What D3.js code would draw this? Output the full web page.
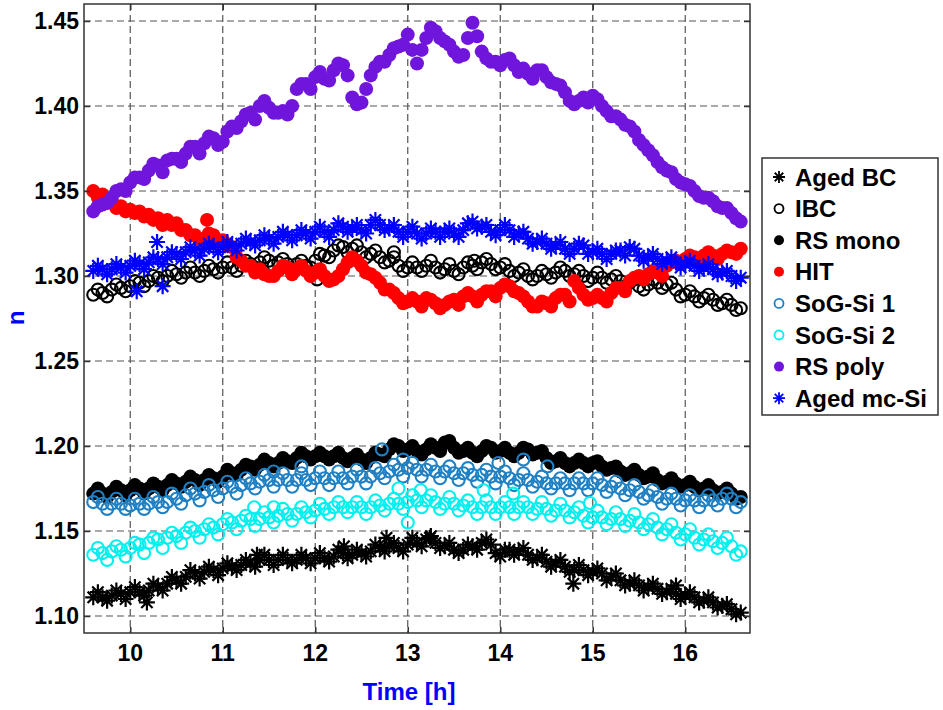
<!DOCTYPE html>
<html>

<head>
  <title>Refractive index vs time</title>
  <script src="https://cdn.jsdelivr.net/npm/d3@7"></script>
  <style>
    body { margin: 0; background: #fff; }
    text { font-family: Arial, "Liberation Sans", sans-serif; font-weight: bold; }
  </style>
</head>

<body>
  <svg width="943" height="710" id="mainsvg"></svg>
  <script>
    // readings on the whole tenths (9.6 ... 16.6 h) and on the half steps between them (9.65 ... 16.55 h)
    const times = d3.range(71).map(i => +(9.6 + i * 0.1).toFixed(2));
    const halfTimes = d3.range(70).map(i => +(9.65 + i * 0.1).toFixed(2));

    const agedBC = [1.111, 1.111, 1.112, 1.113, 1.114, 1.114, 1.115, 1.117, 1.119, 1.121,
      1.123, 1.125, 1.126, 1.127, 1.128, 1.129, 1.130, 1.131, 1.133, 1.133,
      1.133, 1.133, 1.133, 1.134, 1.134, 1.134, 1.135, 1.137, 1.136, 1.137,
      1.138, 1.140, 1.141, 1.140, 1.142, 1.143, 1.145, 1.143, 1.141, 1.139,
      1.139, 1.141, 1.143, 1.142, 1.135, 1.139, 1.138, 1.136, 1.134, 1.132,
      1.131, 1.129, 1.127, 1.127, 1.126, 1.125, 1.123, 1.121, 1.119, 1.118,
      1.117, 1.116, 1.114, 1.113, 1.112, 1.111, 1.109, 1.108, 1.106, 1.104, 1.102];
    const agedBCHalf = [1.114, 1.109, 1.115, 1.110, 1.117, 1.112, 1.119, 1.115, 1.123, 1.119,
      1.127, 1.122, 1.129, 1.124, 1.131, 1.127, 1.133, 1.129, 1.136, 1.130,
      1.136, 1.131, 1.136, 1.131, 1.137, 1.132, 1.139, 1.134, 1.139, 1.135,
      1.142, 1.138, 1.143, 1.138, 1.146, 1.141, 1.147, 1.140, 1.143, 1.137,
      1.142, 1.139, 1.145, 1.137, 1.139, 1.136, 1.140, 1.133, 1.136, 1.129,
      1.133, 1.126, 1.130, 1.124, 1.128, 1.121, 1.125, 1.118, 1.121, 1.115,
      1.119, 1.113, 1.116, 1.110, 1.114, 1.108, 1.111, 1.105, 1.107, 1.101];

    const ibc = [1.289, 1.290, 1.292, 1.293, 1.294, 1.296, 1.297, 1.299, 1.300, 1.301,
      1.302, 1.302, 1.303, 1.304, 1.305, 1.305, 1.306, 1.307, 1.308, 1.309,
      1.308, 1.307, 1.307, 1.306, 1.309, 1.312, 1.315, 1.317, 1.316, 1.314,
      1.313, 1.311, 1.309, 1.306, 1.305, 1.305, 1.306, 1.305, 1.304, 1.303,
      1.305, 1.306, 1.308, 1.307, 1.305, 1.303, 1.302, 1.300, 1.300, 1.301,
      1.302, 1.303, 1.301, 1.300, 1.299, 1.299, 1.298, 1.297, 1.296, 1.294,
      1.295, 1.296, 1.295, 1.292, 1.289, 1.288, 1.287, 1.286, 1.284, 1.283, 1.281];
    const ibcHalf = [1.292, 1.288, 1.295, 1.291, 1.297, 1.294, 1.300, 1.297, 1.303, 1.299,
      1.305, 1.300, 1.306, 1.302, 1.308, 1.303, 1.309, 1.305, 1.311, 1.306,
      1.310, 1.304, 1.309, 1.305, 1.313, 1.311, 1.318, 1.314, 1.318, 1.311,
      1.315, 1.308, 1.311, 1.303, 1.308, 1.303, 1.309, 1.302, 1.307, 1.301,
      1.308, 1.304, 1.310, 1.304, 1.307, 1.300, 1.304, 1.298, 1.303, 1.299,
      1.305, 1.300, 1.303, 1.297, 1.302, 1.296, 1.300, 1.294, 1.298, 1.292,
      1.298, 1.293, 1.296, 1.288, 1.291, 1.285, 1.289, 1.283, 1.286, 1.280];

    const rsMono = [1.172, 1.172, 1.173, 1.174, 1.174, 1.175, 1.175, 1.176, 1.177, 1.178,
      1.179, 1.180, 1.180, 1.181, 1.182, 1.184, 1.186, 1.188, 1.189, 1.190,
      1.190, 1.191, 1.193, 1.194, 1.194, 1.194, 1.194, 1.193, 1.193, 1.192,
      1.193, 1.195, 1.198, 1.200, 1.198, 1.197, 1.198, 1.199, 1.202, 1.199,
      1.197, 1.196, 1.197, 1.199, 1.197, 1.196, 1.196, 1.198, 1.196, 1.193,
      1.191, 1.190, 1.190, 1.190, 1.190, 1.188, 1.187, 1.185, 1.184, 1.183,
      1.182, 1.180, 1.179, 1.178, 1.177, 1.176, 1.175, 1.174, 1.173, 1.172, 1.170];
    const rsMonoHalf = [1.175, 1.170, 1.176, 1.171, 1.177, 1.172, 1.178, 1.174, 1.180, 1.176,
      1.182, 1.177, 1.183, 1.179, 1.186, 1.183, 1.189, 1.186, 1.192, 1.188,
      1.193, 1.190, 1.196, 1.192, 1.196, 1.192, 1.196, 1.191, 1.195, 1.190,
      1.196, 1.194, 1.201, 1.197, 1.200, 1.195, 1.201, 1.197, 1.203, 1.196,
      1.199, 1.194, 1.200, 1.196, 1.199, 1.194, 1.199, 1.195, 1.197, 1.190,
      1.193, 1.188, 1.192, 1.188, 1.191, 1.186, 1.188, 1.183, 1.186, 1.181,
      1.184, 1.178, 1.181, 1.176, 1.179, 1.174, 1.177, 1.172, 1.175, 1.169];

    const hit = [1.350, 1.348, 1.344, 1.341, 1.339, 1.338, 1.336, 1.334, 1.333, 1.331,
      1.327, 1.324, 1.322, 1.324, 1.321, 1.317, 1.309, 1.306, 1.304, 1.300,
      1.303, 1.305, 1.304, 1.303, 1.302, 1.300, 1.298, 1.304, 1.311, 1.306,
      1.301, 1.296, 1.292, 1.287, 1.285, 1.285, 1.287, 1.284, 1.283, 1.286,
      1.288, 1.288, 1.289, 1.291, 1.293, 1.294, 1.290, 1.285, 1.282, 1.284,
      1.287, 1.289, 1.297, 1.289, 1.287, 1.287, 1.290, 1.293, 1.297, 1.300,
      1.301, 1.302, 1.306, 1.309, 1.310, 1.311, 1.312, 1.312, 1.313, 1.314, 1.316];
    const hitHalf = [1.346, 1.343, 1.340, 1.338, 1.337, 1.335, 1.333, 1.330, 1.330, 1.327,
      1.324, 1.320, 1.325, 1.320, 1.318, 1.311, 1.306, 1.302, 1.301, 1.300,
      1.306, 1.301, 1.306, 1.300, 1.304, 1.297, 1.300, 1.308, 1.309, 1.302,
      1.299, 1.292, 1.290, 1.284, 1.287, 1.282, 1.286, 1.281, 1.285, 1.283,
      1.290, 1.285, 1.291, 1.288, 1.295, 1.291, 1.288, 1.282, 1.285, 1.282,
      1.289, 1.285, 1.293, 1.286, 1.289, 1.285, 1.293, 1.291, 1.299, 1.298,
      1.303, 1.300, 1.308, 1.307, 1.312, 1.309, 1.314, 1.310, 1.315, 1.313];

    const sogSi1 = [1.167, 1.166, 1.166, 1.166, 1.165, 1.166, 1.166, 1.167, 1.167, 1.169,
      1.171, 1.172, 1.173, 1.174, 1.175, 1.176, 1.177, 1.178, 1.179, 1.180,
      1.180, 1.180, 1.180, 1.180, 1.181, 1.181, 1.181, 1.181, 1.182, 1.182,
      1.182, 1.184, 1.185, 1.186, 1.187, 1.186, 1.186, 1.185, 1.185, 1.184,
      1.184, 1.183, 1.183, 1.182, 1.182, 1.181, 1.180, 1.180, 1.179, 1.178,
      1.178, 1.178, 1.178, 1.178, 1.178, 1.177, 1.176, 1.175, 1.174, 1.173,
      1.171, 1.170, 1.169, 1.169, 1.168, 1.168, 1.168, 1.168, 1.169, 1.169, 1.167];
    const sogSi1Half = [1.170, 1.163, 1.169, 1.163, 1.169, 1.163, 1.170, 1.164, 1.172, 1.166,
      1.175, 1.168, 1.177, 1.170, 1.179, 1.172, 1.181, 1.175, 1.183, 1.176,
      1.184, 1.176, 1.184, 1.177, 1.185, 1.177, 1.185, 1.178, 1.186, 1.178,
      1.187, 1.181, 1.189, 1.182, 1.190, 1.182, 1.189, 1.181, 1.188, 1.180,
      1.187, 1.179, 1.186, 1.178, 1.185, 1.177, 1.184, 1.176, 1.182, 1.175,
      1.181, 1.174, 1.181, 1.174, 1.181, 1.173, 1.179, 1.171, 1.177, 1.169,
      1.174, 1.166, 1.172, 1.165, 1.171, 1.164, 1.171, 1.165, 1.172, 1.164];

    const sogSi2 = [1.136, 1.137, 1.138, 1.139, 1.140, 1.142, 1.143, 1.145, 1.146, 1.147,
      1.149, 1.150, 1.151, 1.152, 1.154, 1.155, 1.156, 1.157, 1.157, 1.158,
      1.159, 1.160, 1.160, 1.161, 1.162, 1.163, 1.164, 1.164, 1.164, 1.164,
      1.164, 1.165, 1.166, 1.166, 1.167, 1.168, 1.168, 1.167, 1.166, 1.166,
      1.165, 1.164, 1.164, 1.164, 1.164, 1.164, 1.164, 1.164, 1.163, 1.163,
      1.162, 1.162, 1.161, 1.159, 1.158, 1.158, 1.157, 1.157, 1.156, 1.155,
      1.154, 1.152, 1.151, 1.149, 1.148, 1.146, 1.145, 1.144, 1.143, 1.141, 1.138];
    const sogSi2Half = [1.140, 1.133, 1.141, 1.135, 1.143, 1.137, 1.146, 1.140, 1.149, 1.143,
      1.152, 1.146, 1.154, 1.148, 1.157, 1.151, 1.159, 1.153, 1.161, 1.155,
      1.163, 1.156, 1.164, 1.158, 1.166, 1.160, 1.167, 1.161, 1.167, 1.160,
      1.168, 1.162, 1.169, 1.163, 1.171, 1.164, 1.171, 1.163, 1.170, 1.162,
      1.168, 1.160, 1.168, 1.160, 1.167, 1.160, 1.167, 1.160, 1.167, 1.159,
      1.166, 1.158, 1.164, 1.155, 1.162, 1.154, 1.161, 1.153, 1.160, 1.151,
      1.157, 1.148, 1.154, 1.145, 1.151, 1.142, 1.148, 1.140, 1.146, 1.136];

    const rsPoly = [1.338, 1.342, 1.346, 1.351, 1.355, 1.358, 1.362, 1.365, 1.368, 1.369,
      1.372, 1.376, 1.378, 1.381, 1.379, 1.388, 1.391, 1.396, 1.400, 1.399,
      1.396, 1.395, 1.410, 1.413, 1.417, 1.416, 1.421, 1.424, 1.405, 1.402,
      1.418, 1.426, 1.430, 1.435, 1.442, 1.425, 1.440, 1.444, 1.438, 1.432,
      1.430, 1.449, 1.432, 1.426, 1.424, 1.428, 1.420, 1.419, 1.421, 1.417,
      1.413, 1.408, 1.401, 1.405, 1.406, 1.400, 1.394, 1.392, 1.388, 1.380,
      1.374, 1.367, 1.362, 1.357, 1.354, 1.350, 1.346, 1.344, 1.340, 1.337, 1.332];
    const rsPolyHalf = [1.341, 1.343, 1.350, 1.350, 1.358, 1.357, 1.366, 1.361, 1.369, 1.367,
      1.376, 1.372, 1.382, 1.377, 1.385, 1.387, 1.395, 1.392, 1.403, 1.396,
      1.397, 1.400, 1.413, 1.410, 1.420, 1.415, 1.425, 1.418, 1.401, 1.410,
      1.423, 1.426, 1.434, 1.436, 1.433, 1.433, 1.446, 1.440, 1.436, 1.429,
      1.440, 1.441, 1.428, 1.426, 1.427, 1.424, 1.422, 1.416, 1.421, 1.414,
      1.412, 1.403, 1.403, 1.402, 1.404, 1.397, 1.394, 1.389, 1.385, 1.377,
      1.371, 1.364, 1.361, 1.355, 1.353, 1.347, 1.346, 1.341, 1.340, 1.334];

    const agedMcSi = [1.303, 1.304, 1.304, 1.305, 1.306, 1.307, 1.308, 1.310, 1.311, 1.313,
      1.314, 1.315, 1.316, 1.317, 1.317, 1.318, 1.319, 1.320, 1.321, 1.322,
      1.323, 1.324, 1.324, 1.325, 1.326, 1.326, 1.327, 1.329, 1.328, 1.327,
      1.330, 1.330, 1.328, 1.326, 1.326, 1.325, 1.325, 1.326, 1.326, 1.325,
      1.327, 1.332, 1.329, 1.326, 1.327, 1.327, 1.325, 1.322, 1.320, 1.319,
      1.318, 1.316, 1.316, 1.318, 1.314, 1.313, 1.313, 1.315, 1.317, 1.312,
      1.311, 1.310, 1.309, 1.308, 1.307, 1.306, 1.305, 1.304, 1.302, 1.300, 1.299];
    const agedMcSiHalf = [1.306, 1.301, 1.307, 1.302, 1.309, 1.304, 1.311, 1.307, 1.314, 1.310,
      1.317, 1.312, 1.319, 1.314, 1.320, 1.315, 1.322, 1.318, 1.324, 1.319,
      1.326, 1.321, 1.327, 1.322, 1.329, 1.323, 1.331, 1.326, 1.330, 1.325,
      1.333, 1.327, 1.330, 1.323, 1.329, 1.322, 1.328, 1.323, 1.328, 1.323,
      1.331, 1.328, 1.330, 1.324, 1.330, 1.323, 1.326, 1.319, 1.322, 1.316,
      1.320, 1.313, 1.319, 1.313, 1.316, 1.310, 1.315, 1.312, 1.316, 1.309,
      1.313, 1.307, 1.311, 1.305, 1.309, 1.303, 1.307, 1.301, 1.303, 1.297];

    // scattered points that sit off the main bands [time, n]
    const agedBCExtra = [[10.18, 1.108], [11.37, 1.136], [12.31, 1.141], [12.77, 1.146], [13.24, 1.146], [14.79, 1.119], [15.9, 1.118]];
    const ibcExtra = [[12.02, 1.298], [12.85, 1.314], [13.72, 1.309]];
    const sogSi1Extra = [[11.55, 1.185], [11.85, 1.188], [12.72, 1.198], [12.95, 1.192], [13.98, 1.190], [14.25, 1.192], [14.51, 1.188]];
    const sogSi2Extra = [[11.34, 1.164], [11.55, 1.164], [12.9, 1.175], [13.0, 1.155], [13.14, 1.174], [13.82, 1.174], [14.14, 1.172], [14.97, 1.1665]];
    const hitExtra = [[10.83, 1.333]];
    const agedMcSiExtra = [[10.07, 1.291], [10.29, 1.320], [10.35, 1.294]];

    const seriesNames = ['Aged BC', 'IBC', 'RS mono', 'HIT', 'SoG-Si 1', 'SoG-Si 2', 'RS poly', 'Aged mc-Si'];
    const seriesValues = [agedBC, ibc, rsMono, hit, sogSi1, sogSi2, rsPoly, agedMcSi];
    const seriesHalf = [agedBCHalf, ibcHalf, rsMonoHalf, hitHalf, sogSi1Half, sogSi2Half, rsPolyHalf, agedMcSiHalf];
    const seriesExtra = [agedBCExtra, ibcExtra, [], hitExtra, sogSi1Extra, sogSi2Extra, [], agedMcSiExtra];
    const seriesColors = ['#000000', '#000000', '#000000', '#ff0000', '#1f80c4', '#00f0f0', '#7016dc', '#0000ff'];
    const seriesMarkers = ['star', 'ring', 'dot', 'dot', 'ring', 'ring', 'dot', 'star'];

    const xTicks = [10, 11, 12, 13, 14, 15, 16];
    const yTicks = [1.10, 1.15, 1.20, 1.25, 1.30, 1.35, 1.40, 1.45];

    const svg = d3.select('#mainsvg');
    const pLeft = 84, pRight = 750, pTop = 4, pBottom = 633;

    const x = d3.scaleLinear().domain([9.5, 16.7]).range([pLeft, pRight]);
    const y = d3.scaleLinear().domain([1.09, 1.46]).range([pBottom, pTop]);

    // grid
    const grid = svg.append('g').attr('stroke', '#555').attr('stroke-width', 1.2)
      .attr('stroke-dasharray', '7,4');
    grid.append('g').selectAll('line').data(xTicks).join('line')
      .attr('x1', d => x(d)).attr('x2', d => x(d)).attr('y1', pTop).attr('y2', pBottom);
    grid.append('g').selectAll('line').data(yTicks).join('line')
      .attr('y1', d => y(d)).attr('y2', d => y(d)).attr('x1', pLeft).attr('x2', pRight);

    const starPath = function (r) {
      const a = r * Math.SQRT1_2;
      return `M${-r},0L${r},0M0,${-r}L0,${r}M${-a},${-a}L${a},${a}M${-a},${a}L${a},${-a}`;
    };

    const drawMarkers = function (g, pts, kind, color, size, sw) {
      if (kind === 'dot') {
        g.selectAll('circle').data(pts).join('circle')
          .attr('cx', d => d[0]).attr('cy', d => d[1]).attr('r', size)
          .attr('fill', color);
      } else if (kind === 'ring') {
        g.selectAll('circle').data(pts).join('circle')
          .attr('cx', d => d[0]).attr('cy', d => d[1]).attr('r', size)
          .attr('fill', 'none').attr('stroke', color).attr('stroke-width', sw);
      } else {
        g.selectAll('path').data(pts).join('path')
          .attr('transform', d => `translate(${d[0]},${d[1]})`)
          .attr('d', starPath(size))
          .attr('fill', 'none').attr('stroke', color).attr('stroke-width', sw);
      }
    };

    const plot = svg.append('g');
    seriesValues.forEach((vals, i) => {
      const main = vals.map((v, j) => [times[j], v]);
      const half = seriesHalf[i].map((v, j) => [halfTimes[j], v]);
      const pts = main.concat(half, seriesExtra[i])
        .sort((a, b) => a[0] - b[0])
        .map(d => [x(d[0]), y(d[1])]);
      const k = seriesMarkers[i];
      const size = k === 'dot' ? 7 : k === 'ring' ? 6 : 8;
      drawMarkers(plot.append('g'), pts, k, seriesColors[i], size, k === 'ring' ? 2.1 : 2.2);
    });

    // axes box
    svg.append('rect').attr('x', pLeft).attr('y', pTop)
      .attr('width', pRight - pLeft).attr('height', pBottom - pTop)
      .attr('fill', 'none').attr('stroke', '#333').attr('stroke-width', 1.5);

    const axL = svg.append('g').attr('transform', `translate(${pLeft},0)`)
      .call(d3.axisRight(y).tickValues(yTicks).tickSize(6).tickFormat(''));
    const axR = svg.append('g').attr('transform', `translate(${pRight},0)`)
      .call(d3.axisLeft(y).tickValues(yTicks).tickSize(6).tickFormat(''));
    const axB = svg.append('g').attr('transform', `translate(0,${pBottom})`)
      .call(d3.axisTop(x).tickValues(xTicks).tickSize(6).tickFormat(''));
    const axT = svg.append('g').attr('transform', `translate(0,${pTop})`)
      .call(d3.axisBottom(x).tickValues(xTicks).tickSize(6).tickFormat(''));
    [axL, axR, axB, axT].forEach(a => {
      a.select('.domain').remove();
      a.selectAll('line').attr('stroke', '#333').attr('stroke-width', 1.5);
    });

    // tick labels
    svg.append('g').selectAll('text').data(yTicks).join('text')
      .attr('x', pLeft - 5).attr('y', d => y(d)).attr('dy', '0.36em')
      .attr('text-anchor', 'end').attr('font-size', 23)
      .text(d => d3.format('.2f')(d));
    svg.append('g').selectAll('text').data(xTicks).join('text')
      .attr('x', d => x(d)).attr('y', pBottom + 28)
      .attr('text-anchor', 'middle').attr('font-size', 23)
      .text(d => d);

    // axis titles
    svg.append('text').attr('x', 409).attr('y', 700)
      .attr('text-anchor', 'middle').attr('font-size', 24).attr('fill', '#0000ff')
      .text('Time [h]');
    svg.append('text').attr('transform', 'translate(24,318) rotate(-90)')
      .attr('text-anchor', 'middle').attr('font-size', 24).attr('fill', '#0000ff')
      .text('n');

    // legend
    const lg = svg.append('g');
    lg.append('rect').attr('x', 762).attr('y', 158).attr('width', 176).attr('height', 257)
      .attr('fill', '#fff').attr('stroke', '#333').attr('stroke-width', 1.5);
    seriesNames.forEach((name, i) => {
      const ly = 177 + i * 31.6;
      const k = seriesMarkers[i];
      const size = k === 'dot' ? 5 : k === 'ring' ? 4.5 : 6;
      drawMarkers(lg.append('g'), [[779, ly]], k, seriesColors[i], size, 1.8);
      lg.append('text').attr('x', 795).attr('y', ly).attr('dy', '0.36em')
        .attr('font-size', 24).text(name);
    });
  </script>
</body>

</html>
